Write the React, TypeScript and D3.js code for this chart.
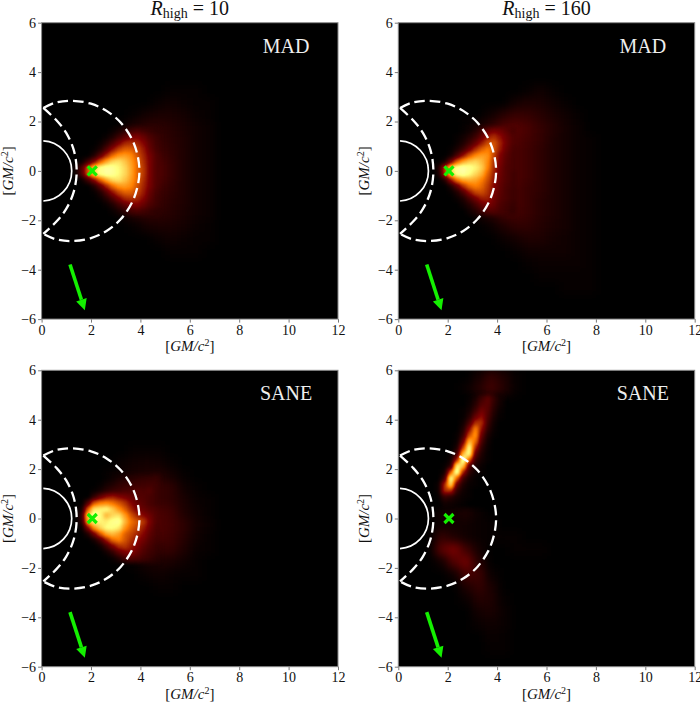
import React, { useEffect, useRef } from "react";
import * as d3 from "d3";

// coarse cells over the whole emission: left edges in x, top edges in y, in GM/c^2
const xCells = [0, 0.5, 1, 1.5, 2, 2.5, 3, 3.5, 4, 4.5, 5, 5.5, 6, 6.5, 7, 7.5];
const yCells = [6, 5.5, 5, 4.5, 4, 3.5, 3, 2.5, 2, 1.5, 1, 0.5, 0, -0.5, -1, -1.5, -2, -2.5, -3, -3.5, -4, -4.5, -5, -5.5];

// fine cells over the bright wedges
const wedgeX = [1.25, 1.5, 1.75, 2, 2.25, 2.5, 2.75, 3, 3.25, 3.5, 3.75, 4, 4.25, 4.5];
const wedgeY = [1.75, 1.5, 1.25, 1, 0.75, 0.5, 0.25, 0, -0.25, -0.5, -0.75, -1, -1.25, -1.5];

// fine cells over the SANE jet
const jetX = [1.5, 1.75, 2, 2.25, 2.5, 2.75, 3, 3.25, 3.5, 3.75, 4];
const jetY = [5, 4.75, 4.5, 4.25, 4, 3.75, 3.5, 3.25, 3, 2.75, 2.5, 2.25, 2, 1.75, 1.5, 1.25, 1, 0.75];

// brightness in percent, one row per y entry
const madLow = [
  [0, 0, 0, 0, 0, 0, 0, 0, 0, 0, 0, 0, 0, 0, 0, 0],
  [0, 0, 0, 0, 0, 0, 0, 0, 0, 0, 0, 0, 0, 0, 0, 0],
  [0, 0, 0, 0, 0, 0, 0, 0, 0, 0, 0, 0, 0, 0, 0, 0],
  [0, 0, 0, 0, 0, 0, 0, 0, 0, 0, 0, 0, 0, 0, 0, 0],
  [0, 0, 0, 0, 0, 0, 0, 0, 0, 0, 0, 0, 0, 0, 0, 0],
  [0, 0, 0, 0, 0, 0, 0, 0, 0, 0, 1, 1, 1, 0, 0, 0],
  [0, 0, 0, 0, 0, 0, 0, 0, 0, 2, 3, 2, 1, 1, 0, 0],
  [0, 0, 0, 0, 0, 0, 0, 1, 4, 5, 5, 4, 2, 1, 0, 0],
  [0, 0, 0, 0, 0, 0, 2, 7, 9, 9, 7, 5, 3, 2, 0, 0],
  [0, 0, 0, 0, 0, 0, 0, 0, 0, 11, 8, 6, 3, 2, 0, 0],
  [0, 0, 0, 0, 0, 0, 0, 0, 0, 13, 9, 6, 3, 2, 0, 0],
  [0, 0, 0, 0, 0, 0, 0, 0, 0, 16, 10, 6, 3, 2, 0, 0],
  [0, 0, 0, 0, 0, 0, 0, 0, 0, 16, 10, 6, 3, 2, 0, 0],
  [0, 0, 0, 0, 0, 0, 0, 0, 0, 13, 9, 6, 3, 2, 0, 0],
  [0, 0, 0, 0, 0, 0, 0, 0, 0, 11, 8, 6, 3, 2, 0, 0],
  [0, 0, 0, 0, 0, 0, 2, 7, 9, 9, 7, 5, 3, 2, 0, 0],
  [0, 0, 0, 0, 0, 0, 0, 1, 4, 5, 5, 4, 2, 1, 0, 0],
  [0, 0, 0, 0, 0, 0, 0, 0, 0, 2, 3, 2, 1, 1, 0, 0],
  [0, 0, 0, 0, 0, 0, 0, 0, 0, 0, 1, 1, 1, 0, 0, 0],
  [0, 0, 0, 0, 0, 0, 0, 0, 0, 0, 0, 0, 0, 0, 0, 0],
  [0, 0, 0, 0, 0, 0, 0, 0, 0, 0, 0, 0, 0, 0, 0, 0],
  [0, 0, 0, 0, 0, 0, 0, 0, 0, 0, 0, 0, 0, 0, 0, 0],
  [0, 0, 0, 0, 0, 0, 0, 0, 0, 0, 0, 0, 0, 0, 0, 0],
  [0, 0, 0, 0, 0, 0, 0, 0, 0, 0, 0, 0, 0, 0, 0, 0],
];
const madLowWedge = [
  [0, 0, 0, 0, 0, 0, 2, 5, 9, 13, 15, 13, 11, 9],
  [0, 0, 0, 0, 0, 2, 6, 12, 18, 24, 25, 20, 15, 12],
  [0, 0, 0, 0, 2, 7, 15, 24, 32, 34, 32, 26, 18, 13],
  [0, 0, 0, 1, 6, 16, 28, 38, 44, 44, 38, 30, 20, 14],
  [0, 0, 0, 6, 18, 32, 46, 54, 56, 52, 42, 32, 23, 16],
  [0, 2, 12, 26, 44, 58, 68, 70, 64, 56, 46, 34, 24, 16],
  [3, 16, 42, 66, 78, 82, 80, 74, 68, 58, 46, 36, 24, 16],
  [3, 16, 42, 66, 78, 82, 80, 74, 68, 58, 46, 36, 24, 16],
  [0, 2, 12, 26, 44, 58, 68, 70, 64, 56, 46, 34, 24, 16],
  [0, 0, 0, 6, 18, 32, 46, 54, 56, 52, 42, 32, 23, 16],
  [0, 0, 0, 1, 6, 16, 28, 38, 44, 44, 38, 30, 20, 14],
  [0, 0, 0, 0, 2, 7, 15, 24, 32, 34, 32, 26, 18, 13],
  [0, 0, 0, 0, 0, 2, 6, 12, 18, 24, 25, 20, 15, 12],
  [0, 0, 0, 0, 0, 0, 2, 5, 9, 13, 15, 13, 11, 9],
];

const madHigh = [
  [0, 0, 0, 0, 0, 0, 0, 0, 0, 0, 0, 0, 0, 0, 0, 0],
  [0, 0, 0, 0, 0, 0, 0, 0, 0, 0, 0, 0, 0, 0, 0, 0],
  [0, 0, 0, 0, 0, 0, 0, 0, 0, 0, 0, 0, 0, 0, 0, 0],
  [0, 0, 0, 0, 0, 0, 0, 0, 0, 0, 0, 0, 0, 0, 0, 0],
  [0, 0, 0, 0, 0, 0, 0, 0, 0, 0, 0, 0, 0, 0, 0, 0],
  [0, 0, 0, 0, 0, 0, 0, 0, 0, 0, 1, 3, 1, 0, 0, 0],
  [0, 0, 0, 0, 0, 0, 0, 0, 0, 4, 6, 5, 3, 1, 0, 0],
  [0, 0, 0, 0, 0, 0, 0, 3, 8, 11, 10, 8, 5, 3, 1, 0],
  [0, 0, 0, 0, 0, 2, 5, 10, 16, 17, 14, 10, 7, 4, 2, 0],
  [0, 0, 0, 0, 0, 0, 0, 0, 0, 16, 13, 10, 6, 4, 2, 1],
  [0, 0, 0, 0, 0, 0, 0, 0, 0, 15, 12, 9, 6, 4, 2, 1],
  [0, 0, 0, 0, 0, 0, 0, 0, 0, 15, 12, 9, 6, 4, 2, 1],
  [0, 0, 0, 0, 0, 0, 0, 0, 0, 15, 12, 9, 6, 4, 2, 1],
  [0, 0, 0, 0, 0, 0, 0, 0, 0, 14, 11, 9, 6, 4, 2, 1],
  [0, 0, 0, 0, 0, 0, 0, 0, 0, 14, 11, 8, 6, 4, 2, 1],
  [0, 0, 0, 0, 0, 0, 3, 8, 12, 13, 11, 8, 6, 4, 2, 1],
  [0, 0, 0, 0, 0, 0, 0, 2, 6, 9, 9, 7, 5, 4, 2, 1],
  [0, 0, 0, 0, 0, 0, 0, 0, 2, 4, 6, 6, 4, 3, 2, 1],
  [0, 0, 0, 0, 0, 0, 0, 0, 0, 1, 3, 3, 3, 3, 2, 1],
  [0, 0, 0, 0, 0, 0, 0, 0, 0, 0, 1, 2, 2, 2, 2, 1],
  [0, 0, 0, 0, 0, 0, 0, 0, 0, 0, 0, 1, 1, 1, 1, 1],
  [0, 0, 0, 0, 0, 0, 0, 0, 0, 0, 0, 0, 0, 1, 1, 1],
  [0, 0, 0, 0, 0, 0, 0, 0, 0, 0, 0, 0, 0, 0, 0, 0],
  [0, 0, 0, 0, 0, 0, 0, 0, 0, 0, 0, 0, 0, 0, 0, 0],
];
const madHighWedge = [
  [0, 0, 0, 0, 0, 1, 3, 7, 13, 20, 24, 22, 18, 14],
  [0, 0, 0, 0, 1, 3, 7, 12, 20, 30, 34, 28, 21, 16],
  [0, 0, 0, 0, 2, 6, 12, 20, 30, 40, 42, 32, 22, 16],
  [0, 0, 0, 1, 5, 12, 22, 34, 44, 50, 42, 30, 20, 15],
  [0, 0, 0, 3, 14, 28, 42, 52, 56, 54, 38, 25, 18, 14],
  [0, 0, 4, 22, 44, 58, 66, 68, 62, 52, 34, 24, 17, 14],
  [0, 5, 36, 68, 80, 84, 80, 74, 66, 50, 32, 22, 16, 14],
  [0, 4, 34, 62, 78, 82, 76, 68, 60, 44, 30, 21, 16, 13],
  [0, 0, 6, 28, 48, 58, 60, 58, 50, 40, 28, 20, 16, 13],
  [0, 0, 0, 6, 18, 34, 46, 50, 46, 36, 26, 19, 15, 13],
  [0, 0, 0, 1, 6, 15, 28, 38, 40, 34, 24, 18, 14, 12],
  [0, 0, 0, 0, 2, 6, 14, 22, 30, 30, 22, 17, 14, 12],
  [0, 0, 0, 0, 0, 3, 7, 13, 20, 24, 20, 15, 13, 11],
  [0, 0, 0, 0, 0, 0, 3, 7, 12, 16, 16, 14, 12, 10],
];

const saneLow = [
  [0, 0, 0, 0, 0, 0, 0, 0, 0, 0, 0, 0, 0, 0, 0, 0],
  [0, 0, 0, 0, 0, 0, 0, 0, 0, 0, 0, 0, 0, 0, 0, 0],
  [0, 0, 0, 0, 0, 0, 0, 0, 0, 0, 0, 0, 0, 0, 0, 0],
  [0, 0, 0, 0, 0, 0, 0, 0, 0, 0, 0, 0, 0, 0, 0, 0],
  [0, 0, 0, 0, 0, 0, 0, 0, 0, 0, 0, 0, 0, 0, 0, 0],
  [0, 0, 0, 0, 0, 0, 0, 0, 0, 0, 0, 0, 0, 0, 0, 0],
  [0, 0, 0, 0, 0, 0, 0, 1, 1, 1, 0, 0, 0, 0, 0, 0],
  [0, 0, 0, 0, 0, 0, 2, 3, 4, 3, 1, 0, 0, 0, 0, 0],
  [0, 0, 0, 0, 0, 2, 3, 5, 6, 7, 4, 1, 0, 0, 0, 0],
  [0, 0, 0, 0, 0, 0, 0, 0, 0, 11, 9, 3, 1, 0, 0, 0],
  [0, 0, 0, 0, 0, 0, 0, 0, 0, 11, 9, 5, 2, 1, 0, 0],
  [0, 0, 0, 0, 0, 0, 0, 0, 0, 15, 12, 6, 3, 1, 0, 0],
  [0, 0, 0, 0, 0, 0, 0, 0, 0, 16, 13, 9, 4, 2, 0, 0],
  [0, 0, 0, 0, 0, 0, 0, 0, 0, 14, 12, 8, 3, 1, 0, 0],
  [0, 0, 0, 0, 0, 0, 0, 0, 0, 10, 10, 6, 2, 1, 0, 0],
  [0, 0, 0, 0, 0, 0, 0, 2, 5, 6, 5, 3, 1, 0, 0, 0],
  [0, 0, 0, 0, 0, 0, 0, 0, 2, 3, 2, 1, 1, 0, 0, 0],
  [0, 0, 0, 0, 0, 0, 0, 0, 0, 1, 1, 0, 0, 0, 0, 0],
  [0, 0, 0, 0, 0, 0, 0, 0, 0, 0, 0, 0, 0, 0, 0, 0],
  [0, 0, 0, 0, 0, 0, 0, 0, 0, 0, 0, 0, 0, 0, 0, 0],
  [0, 0, 0, 0, 0, 0, 0, 0, 0, 0, 0, 0, 0, 0, 0, 0],
  [0, 0, 0, 0, 0, 0, 0, 0, 0, 0, 0, 0, 0, 0, 0, 0],
  [0, 0, 0, 0, 0, 0, 0, 0, 0, 0, 0, 0, 0, 0, 0, 0],
  [0, 0, 0, 0, 0, 0, 0, 0, 0, 0, 0, 0, 0, 0, 0, 0],
];
const saneLowWedge = [
  [0, 0, 0, 0, 0, 1, 3, 5, 7, 8, 9, 10, 10, 11],
  [0, 0, 0, 0, 1, 4, 6, 9, 10, 11, 12, 12, 13, 12],
  [0, 0, 0, 1, 4, 8, 11, 12, 14, 15, 16, 15, 16, 12],
  [0, 0, 0, 10, 20, 28, 30, 26, 23, 20, 17, 16, 14, 12],
  [0, 0, 16, 42, 50, 52, 48, 42, 35, 26, 20, 17, 14, 12],
  [0, 4, 44, 72, 74, 76, 66, 54, 44, 32, 24, 20, 17, 15],
  [0, 10, 66, 82, 76, 60, 68, 70, 56, 42, 32, 26, 21, 16],
  [0, 8, 58, 76, 74, 72, 78, 80, 62, 48, 42, 36, 24, 16],
  [0, 2, 26, 54, 68, 76, 76, 72, 54, 44, 38, 30, 21, 15],
  [0, 0, 6, 22, 42, 58, 62, 56, 44, 38, 32, 26, 18, 14],
  [0, 0, 0, 4, 14, 30, 46, 50, 42, 34, 28, 22, 16, 13],
  [0, 0, 0, 0, 3, 12, 24, 34, 36, 30, 24, 18, 14, 11],
  [0, 0, 0, 0, 0, 3, 9, 18, 24, 26, 20, 15, 12, 10],
  [0, 0, 0, 0, 0, 0, 2, 6, 12, 15, 14, 12, 10, 8],
];

const saneHigh = [
  [0, 0, 0, 0, 0, 0, 4, 10, 6, 1, 0, 0, 0, 0, 0, 0],
  [0, 0, 0, 0, 0, 2, 7, 13, 7, 1, 0, 0, 0, 0, 0, 0],
  [0, 0, 0, 0, 0, 0, 0, 0, 0, 0, 0, 0, 0, 0, 0, 0],
  [0, 0, 0, 0, 0, 0, 0, 0, 0, 0, 0, 0, 0, 0, 0, 0],
  [0, 0, 0, 0, 0, 0, 0, 0, 0, 0, 0, 0, 0, 0, 0, 0],
  [0, 0, 0, 0, 0, 0, 0, 0, 0, 0, 0, 0, 0, 0, 0, 0],
  [0, 0, 0, 0, 0, 0, 0, 0, 0, 0, 0, 0, 0, 0, 0, 0],
  [0, 0, 0, 0, 0, 0, 0, 0, 0, 0, 0, 0, 0, 0, 0, 0],
  [0, 0, 0, 0, 0, 0, 0, 0, 0, 0, 0, 0, 0, 0, 0, 0],
  [0, 0, 0, 0, 0, 0, 0, 0, 0, 0, 0, 0, 0, 0, 0, 0],
  [0, 0, 0, 0, 0, 0, 0, 0, 0, 0, 0, 0, 0, 0, 0, 0],
  [0, 0, 0, 3, 4, 6, 2, 0, 0, 0, 0, 0, 0, 0, 0, 0],
  [0, 0, 0, 3, 3, 3, 2, 1, 0, 0, 0, 0, 0, 0, 0, 0],
  [0, 0, 0, 10, 6, 3, 2, 1, 1, 1, 0, 0, 0, 0, 0, 0],
  [0, 0, 0, 18, 24, 12, 4, 0, 0, 1, 1, 1, 0, 0, 0, 0],
  [0, 0, 0, 3, 16, 22, 7, 0, 0, 0, 0, 0, 0, 0, 0, 0],
  [0, 0, 0, 0, 3, 14, 12, 2, 0, 0, 0, 0, 0, 0, 0, 0],
  [0, 0, 0, 0, 0, 6, 10, 5, 0, 0, 0, 0, 0, 0, 0, 0],
  [0, 0, 0, 0, 0, 2, 7, 6, 1, 0, 0, 0, 0, 0, 0, 0],
  [0, 0, 0, 0, 0, 0, 4, 5, 2, 0, 0, 0, 0, 0, 0, 0],
  [0, 0, 0, 0, 0, 0, 2, 3, 2, 0, 0, 0, 0, 0, 0, 0],
  [0, 0, 0, 0, 0, 0, 0, 2, 1, 0, 0, 0, 0, 0, 0, 0],
  [0, 0, 0, 0, 0, 0, 0, 1, 1, 0, 0, 0, 0, 0, 0, 0],
  [0, 0, 0, 0, 0, 0, 0, 0, 0, 0, 0, 0, 0, 0, 0, 0],
];
const saneHighJet = [
  [0, 0, 0, 0, 0, 1, 5, 12, 18, 10, 4],
  [0, 0, 0, 0, 0, 2, 8, 16, 18, 9, 3],
  [0, 0, 0, 0, 1, 4, 12, 22, 17, 7, 2],
  [0, 0, 0, 0, 1, 7, 20, 28, 15, 5, 1],
  [0, 0, 0, 0, 3, 14, 34, 34, 12, 3, 0],
  [0, 0, 0, 0, 6, 26, 52, 28, 9, 2, 0],
  [0, 0, 0, 1, 10, 40, 56, 20, 5, 1, 0],
  [0, 0, 0, 2, 20, 62, 48, 14, 3, 0, 0],
  [0, 0, 0, 5, 36, 80, 32, 9, 2, 0, 0],
  [0, 0, 1, 12, 62, 80, 18, 6, 1, 0, 0],
  [0, 0, 3, 32, 86, 44, 10, 4, 1, 0, 0],
  [0, 1, 8, 76, 66, 16, 5, 2, 0, 0, 0],
  [0, 3, 44, 86, 32, 9, 3, 1, 0, 0, 0],
  [0, 12, 82, 44, 12, 4, 1, 0, 0, 0, 0],
  [2, 34, 70, 18, 6, 2, 1, 0, 0, 0, 0],
  [2, 34, 34, 9, 3, 1, 0, 0, 0, 0, 0],
  [1, 10, 8, 4, 2, 1, 0, 0, 0, 0, 0],
  [0, 4, 3, 2, 1, 0, 0, 0, 0, 0, 0],
];

const xTicks = [0, 2, 4, 6, 8, 10, 12];
const yTicks = [-6, -4, -2, 0, 2, 4, 6];

// upper half of the dashed crescent, mirrored below y = 0
const outerEdge: [number, number][] = [[0.07, 2.55], [0.55, 2.76], [1.2, 2.84], [2, 2.72], [2.63, 2.43], [3.2, 1.96], [3.65, 1.3], [3.88, 0.65], [3.96, 0]];
const innerEdge: [number, number][] = [[0.07, 2.55], [0.6, 2.05], [0.99, 1.55], [1.3, 0.85], [1.42, 0]];
const horizonRadius = 1.22;
const spot: [number, number] = [2.05, 0];
const arrowStart: [number, number] = [1.15, -3.79];
const arrowTip: [number, number] = [1.75, -5.64];

const panels = [
  { grid: madLow, fine: madLowWedge, fineX: wedgeX, fineY: wedgeY, name: "MAD", left: 41.6, top: 22.7, title: "10" },
  { grid: madHigh, fine: madHighWedge, fineX: wedgeX, fineY: wedgeY, name: "MAD", left: 398.3, top: 22.7, title: "160" },
  { grid: saneLow, fine: saneLowWedge, fineX: wedgeX, fineY: wedgeY, name: "SANE", left: 41.6, top: 370.3, title: null },
  { grid: saneHigh, fine: saneHighJet, fineX: jetX, fineY: jetY, name: "SANE", left: 398.3, top: 370.3, title: null },
];

const size = 296.4;
const serif = "'Liberation Serif', serif";
const green = "#14f000";

export default function App() {
  const ref = useRef<SVGSVGElement | null>(null);

  useEffect(() => {
    const svg = d3.select(ref.current);
    svg.selectAll("*").remove();
    const defs = svg.append("defs");

    const region = (f: d3.Selection<SVGFilterElement, unknown, null, undefined>) =>
      f
        .attr("filterUnits", "userSpaceOnUse")
        .attr("x", 0)
        .attr("y", 0)
        .attr("width", 700)
        .attr("height", 703)
        .attr("color-interpolation-filters", "sRGB");

    region(defs.append("filter").attr("id", "blurCoarse")).append("feGaussianBlur").attr("stdDeviation", 5);
    region(defs.append("filter").attr("id", "blurFine")).append("feGaussianBlur").attr("stdDeviation", 2.3);

    // afmhot colormap applied on the blurred brightness
    const transfer = region(defs.append("filter").attr("id", "heat")).append("feComponentTransfer");
    transfer.append("feFuncR").attr("type", "table").attr("tableValues", "0 1 1");
    transfer.append("feFuncG").attr("type", "table").attr("tableValues", "0 0 0.5 1 1");
    transfer.append("feFuncB").attr("type", "table").attr("tableValues", "0 0 1");

    panels.forEach((p, i) => {
      const x = d3.scaleLinear().domain([0, 12]).range([p.left, p.left + size]);
      const y = d3.scaleLinear().domain([-6, 6]).range([p.top + size, p.top]);
      const g = svg.append("g");

      const clipId = `clip${i}`;
      defs
        .append("clipPath")
        .attr("id", clipId)
        .append("rect")
        .attr("x", p.left)
        .attr("y", p.top)
        .attr("width", size)
        .attr("height", size);

      const image = g.append("g").attr("clip-path", `url(#${clipId})`).append("g").attr("filter", "url(#heat)");
      const coarse = image.append("g").attr("filter", "url(#blurCoarse)");
      coarse
        .append("rect")
        .attr("x", p.left - 20)
        .attr("y", p.top - 20)
        .attr("width", size + 40)
        .attr("height", size + 40)
        .attr("fill", "#000");

      const drawCells = (
        layer: d3.Selection<SVGGElement, unknown, null, undefined>,
        xs: number[],
        ys: number[],
        values: number[][],
        step: number,
        keepZero: boolean
      ) => {
        const cw = x(step) - x(0);
        const ch = y(0) - y(step);
        ys.forEach((yTop, r) => {
          xs.forEach((xLeft, c) => {
            const v = values[r][c];
            if (!v && !keepZero) return;
            const level = Math.round((v / 100) * 255);
            layer
              .append("rect")
              .attr("x", x(xLeft))
              .attr("y", y(yTop))
              .attr("width", cw + 0.5)
              .attr("height", ch + 0.5)
              .attr("fill", `rgb(${level},${level},${level})`);
          });
        });
      };
      drawCells(coarse, xCells, yCells, p.grid, 0.5, false);
      drawCells(image.append("g").attr("filter", "url(#blurFine)"), p.fineX, p.fineY, p.fine, 0.25, true);

      // overlays
      const overlay = g.append("g").attr("clip-path", `url(#${clipId})`);
      const line = d3
        .line<[number, number]>()
        .x((d) => x(d[0]))
        .y((d) => y(d[1]))
        .curve(d3.curveCatmullRom);
      const mirror = (pts: [number, number][]) => [...pts, ...pts.slice(0, -1).reverse().map(([a, b]) => [a, -b] as [number, number])];

      [outerEdge, innerEdge].forEach((edge) => {
        overlay
          .append("path")
          .attr("d", line(mirror(edge)))
          .attr("fill", "none")
          .attr("stroke", "#fff")
          .attr("stroke-width", 2.3)
          .attr("stroke-dasharray", "10.5,5");
      });

      const r = x(horizonRadius) - x(0);
      const gap = Math.asin(0.07 / horizonRadius);
      overlay
        .append("path")
        .attr("d", d3.arc()({ innerRadius: r, outerRadius: r, startAngle: gap, endAngle: Math.PI - gap }))
        .attr("transform", `translate(${x(0)},${y(0)})`)
        .attr("fill", "none")
        .attr("stroke", "#fff")
        .attr("stroke-width", 1.7);

      const sx = x(spot[0]);
      const sy = y(spot[1]);
      overlay
        .append("path")
        .attr("d", `M${sx - 4.5},${sy - 4.5}L${sx + 4.5},${sy + 4.5}M${sx - 4.5},${sy + 4.5}L${sx + 4.5},${sy - 4.5}`)
        .attr("stroke", green)
        .attr("stroke-width", 3.2)
        .attr("fill", "none");

      const ax = x(arrowStart[0]);
      const ay = y(arrowStart[1]);
      const bx = x(arrowTip[0]);
      const by = y(arrowTip[1]);
      const len = Math.hypot(bx - ax, by - ay);
      const ux = (bx - ax) / len;
      const uy = (by - ay) / len;
      const headLen = 11;
      const headHalf = 5.5;
      const nx = bx - ux * headLen;
      const ny = by - uy * headLen;
      overlay
        .append("line")
        .attr("x1", ax)
        .attr("y1", ay)
        .attr("x2", nx)
        .attr("y2", ny)
        .attr("stroke", green)
        .attr("stroke-width", 3.6);
      overlay
        .append("path")
        .attr("d", `M${bx},${by}L${nx - uy * headHalf},${ny + ux * headHalf}L${nx + uy * headHalf},${ny - ux * headHalf}Z`)
        .attr("fill", green);

      overlay
        .append("text")
        .attr("x", x(9.9))
        .attr("y", p.top + 30)
        .attr("text-anchor", "middle")
        .attr("font-family", serif)
        .attr("font-size", 20)
        .attr("fill", "#eee")
        .text(p.name);

      // axes
      const fmt = (d: d3.NumberValue) => String(d).replace("-", "\u2212");
      const bottom = g
        .append("g")
        .attr("transform", `translate(0,${p.top + size})`)
        .call(d3.axisBottom(x).tickValues(xTicks).tickSize(3.5).tickPadding(2).tickFormat(fmt));
      const left = g
        .append("g")
        .attr("transform", `translate(${p.left},0)`)
        .call(d3.axisLeft(y).tickValues(yTicks).tickSize(3.5).tickPadding(2).tickFormat(fmt));
      [bottom, left].forEach((a) => {
        a.select(".domain").remove();
        a.selectAll("line").attr("stroke", "#555").attr("stroke-width", 0.8);
        a.selectAll("text").attr("font-family", serif).attr("font-size", 14).attr("fill", "#111");
      });

      g.append("rect")
        .attr("x", p.left)
        .attr("y", p.top)
        .attr("width", size)
        .attr("height", size)
        .attr("fill", "none")
        .attr("stroke", "#8a8a8a")
        .attr("stroke-width", 1);

      const gmLabel = (t: d3.Selection<SVGTextElement, unknown, null, undefined>) => {
        t.attr("text-anchor", "middle").attr("font-family", serif).attr("font-size", 15).attr("fill", "#111");
        t.append("tspan").text("[");
        t.append("tspan").attr("font-style", "italic").text("GM/c");
        t.append("tspan").attr("font-size", 10).attr("dy", -5).text("2");
        t.append("tspan").attr("dy", 5).text("]");
      };
      g.append("text")
        .attr("x", p.left + size / 2)
        .attr("y", p.top + size + 32)
        .call(gmLabel as any);
      g.append("text")
        .attr("transform", `translate(${p.left - 29},${p.top + size / 2}) rotate(-90)`)
        .call(gmLabel as any);

      if (p.title) {
        const t = g
          .append("text")
          .attr("x", p.left + size / 2)
          .attr("y", 15)
          .attr("text-anchor", "middle")
          .attr("font-family", serif)
          .attr("font-size", 20)
          .attr("fill", "#111");
        t.append("tspan").attr("font-style", "italic").text("R");
        t.append("tspan").attr("font-size", 14).attr("dy", 3).text("high");
        t.append("tspan").attr("dy", -3).text(` = ${p.title}`);
      }
    });
  }, []);

  return <svg ref={ref} width={700} height={703} style={{ position: "absolute", left: 0, top: 0, background: "#fff" }} />;
}
